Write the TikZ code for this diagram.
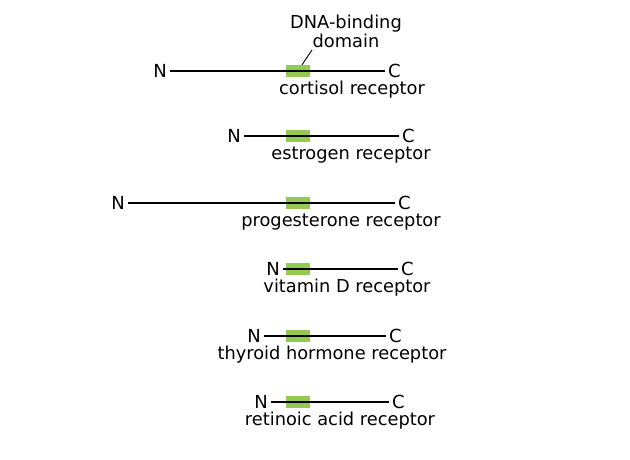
\documentclass[tikz,border=0pt]{standalone}
\usepackage{fontspec}
\setmainfont{DejaVu Sans}
\definecolor{dbdgreen}{RGB}{148,201,82}
\tikzset{
  term/.style={font=\fontsize{18}{19}\selectfont, inner sep=0pt},
  dbd/.style={fill=dbdgreen, minimum width=24pt, minimum height=12pt, inner sep=0pt},
  lbl/.style={font=\fontsize{17.8}{19}\selectfont, inner sep=0pt, anchor=base}
}
\begin{document}
\begin{tikzpicture}[x=1pt, y=-1pt]
  \useasboundingbox (0,0) rectangle (630,459);
  \foreach \i/\y/\a/\b/\lx/\lab in {1/71/170/385/352/cortisol receptor, 2/136/244/399/351/estrogen receptor, 3/203/128/395/341/progesterone receptor, 4/269/283/398/347/vitamin D receptor, 5/336/264/386/332/thyroid hormone receptor, 6/402/271/389/340/retinoic acid receptor} {
    \node[dbd] (box\i) at (298,\y) {};
    \node[term, anchor=east] (n\i) at (\a-3,\y) {N};
    \node[term, anchor=west] (c\i) at (\b+3,\y) {C};
    \draw[line width=2pt] ([xshift=3pt]n\i.east) -- ([xshift=-3pt]n\i.east -| c\i.west);
    \node[lbl] (name\i) at (\lx,\y+23) {\lab};
  }
  \node[lbl, align=center] (dbdlabel) at (346,47) {DNA-binding\\domain};
  \coordinate (lead) at (312,50);
  \draw[line width=0.9pt] (lead) -- ([xshift=4pt]box1.north);
\end{tikzpicture}
\end{document}
